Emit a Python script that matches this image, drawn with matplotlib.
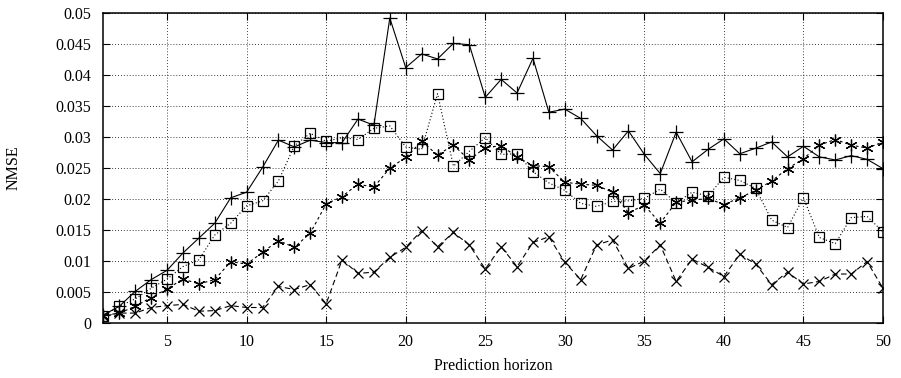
import numpy as np
import matplotlib.pyplot as plt

plt.rcParams['font.family'] = ['Liberation Serif', 'DejaVu Serif']

horizon = np.arange(1, 51)

# NMSE per prediction horizon for the four models
nmse_plus = [0.0013, 0.0027, 0.0051, 0.0070, 0.0085, 0.0113, 0.0137, 0.0161, 0.0202, 0.0211,
             0.0251, 0.0295, 0.0284, 0.0295, 0.0291, 0.0291, 0.0329, 0.0319, 0.0492, 0.0412,
             0.0434, 0.0426, 0.0451, 0.0449, 0.0364, 0.0393, 0.0371, 0.0427, 0.0340, 0.0345,
             0.0330, 0.0302, 0.0279, 0.0310, 0.0272, 0.0241, 0.0308, 0.0260, 0.0280, 0.0297,
             0.0273, 0.0282, 0.0292, 0.0268, 0.0285, 0.0268, 0.0263, 0.0270, 0.0264, 0.0249]
nmse_cross = [0.0012, 0.0016, 0.0016, 0.0025, 0.0028, 0.0030, 0.0019, 0.0020, 0.0028, 0.0025,
              0.0025, 0.0059, 0.0054, 0.0062, 0.0031, 0.0102, 0.0080, 0.0082, 0.0106, 0.0122,
              0.0149, 0.0123, 0.0146, 0.0126, 0.0087, 0.0123, 0.0091, 0.0130, 0.0139, 0.0098,
              0.0070, 0.0126, 0.0134, 0.0088, 0.0100, 0.0126, 0.0067, 0.0103, 0.0090, 0.0075,
              0.0111, 0.0095, 0.0062, 0.0082, 0.0063, 0.0067, 0.0079, 0.0079, 0.0099, 0.0056]
nmse_star = [0.0011, 0.0016, 0.0027, 0.0041, 0.0055, 0.0071, 0.0063, 0.0070, 0.0099, 0.0095,
             0.0114, 0.0133, 0.0122, 0.0145, 0.0192, 0.0204, 0.0224, 0.0219, 0.0250, 0.0267,
             0.0293, 0.0271, 0.0287, 0.0263, 0.0283, 0.0286, 0.0268, 0.0254, 0.0252, 0.0227,
             0.0224, 0.0222, 0.0211, 0.0178, 0.0190, 0.0161, 0.0195, 0.0198, 0.0201, 0.0191,
             0.0202, 0.0214, 0.0229, 0.0249, 0.0265, 0.0287, 0.0296, 0.0287, 0.0282, 0.0292]
nmse_box = [0.0012, 0.0027, 0.0039, 0.0056, 0.0071, 0.0091, 0.0102, 0.0142, 0.0161, 0.0189,
            0.0197, 0.0229, 0.0286, 0.0306, 0.0293, 0.0299, 0.0296, 0.0314, 0.0318, 0.0284,
            0.0280, 0.0370, 0.0253, 0.0277, 0.0299, 0.0272, 0.0273, 0.0244, 0.0226, 0.0214,
            0.0193, 0.0188, 0.0196, 0.0197, 0.0201, 0.0216, 0.0194, 0.0211, 0.0205, 0.0235,
            0.0230, 0.0217, 0.0166, 0.0154, 0.0202, 0.0138, 0.0128, 0.0170, 0.0172, 0.0147]

xticks = [5, 10, 15, 20, 25, 30, 35, 40, 45, 50]
yticks = [0, 0.005, 0.01, 0.015, 0.02, 0.025, 0.03, 0.035, 0.04, 0.045, 0.05]
ytick_labels = ['0', '0.005', '0.01', '0.015', '0.02', '0.025', '0.03', '0.035', '0.04', '0.045', '0.05']

fig = plt.figure(figsize=(9.01, 3.78), dpi=100)
ax = fig.add_axes([0.1148, 0.1455, 0.8652, 0.82])

lw = 0.8
ax.plot(horizon, nmse_plus, color='k', lw=lw, ls='-', marker='+', ms=10, mew=0.9)
ax.plot(horizon, nmse_cross, color='k', lw=lw, ls=(0, (5, 3)), marker='x', ms=7.5, mew=0.9)
ax.plot(horizon, nmse_star, color='k', lw=lw, ls=(0, (2.5, 2.5)), marker=(6, 2, 0), ms=8.5, mew=0.9)
ax.plot(horizon, nmse_box, color='k', lw=lw, ls=(0, (1, 2)), marker='s', ms=7, mew=0.9,
        mfc='none')

ax.set_xlim(1, 50)
ax.set_ylim(0, 0.05)
ax.set_xticks(xticks)
ax.set_yticks(yticks)
ax.set_yticklabels(ytick_labels)
ax.grid(True, color='k', ls=(0, (1, 2.5)), lw=0.6)
ax.tick_params(direction='in', length=5, width=0.8, top=True, right=True, labelsize=11.5)
ax.tick_params(axis='y', pad=9)
ax.tick_params(axis='x', pad=8)
for s in ax.spines.values():
    s.set_linewidth(1.1)

ax.set_xlabel('Prediction horizon', fontsize=11.5, labelpad=6)
ax.set_ylabel('NMSE', fontsize=11.5, labelpad=24)

fig.savefig('out.png', dpi=100)
